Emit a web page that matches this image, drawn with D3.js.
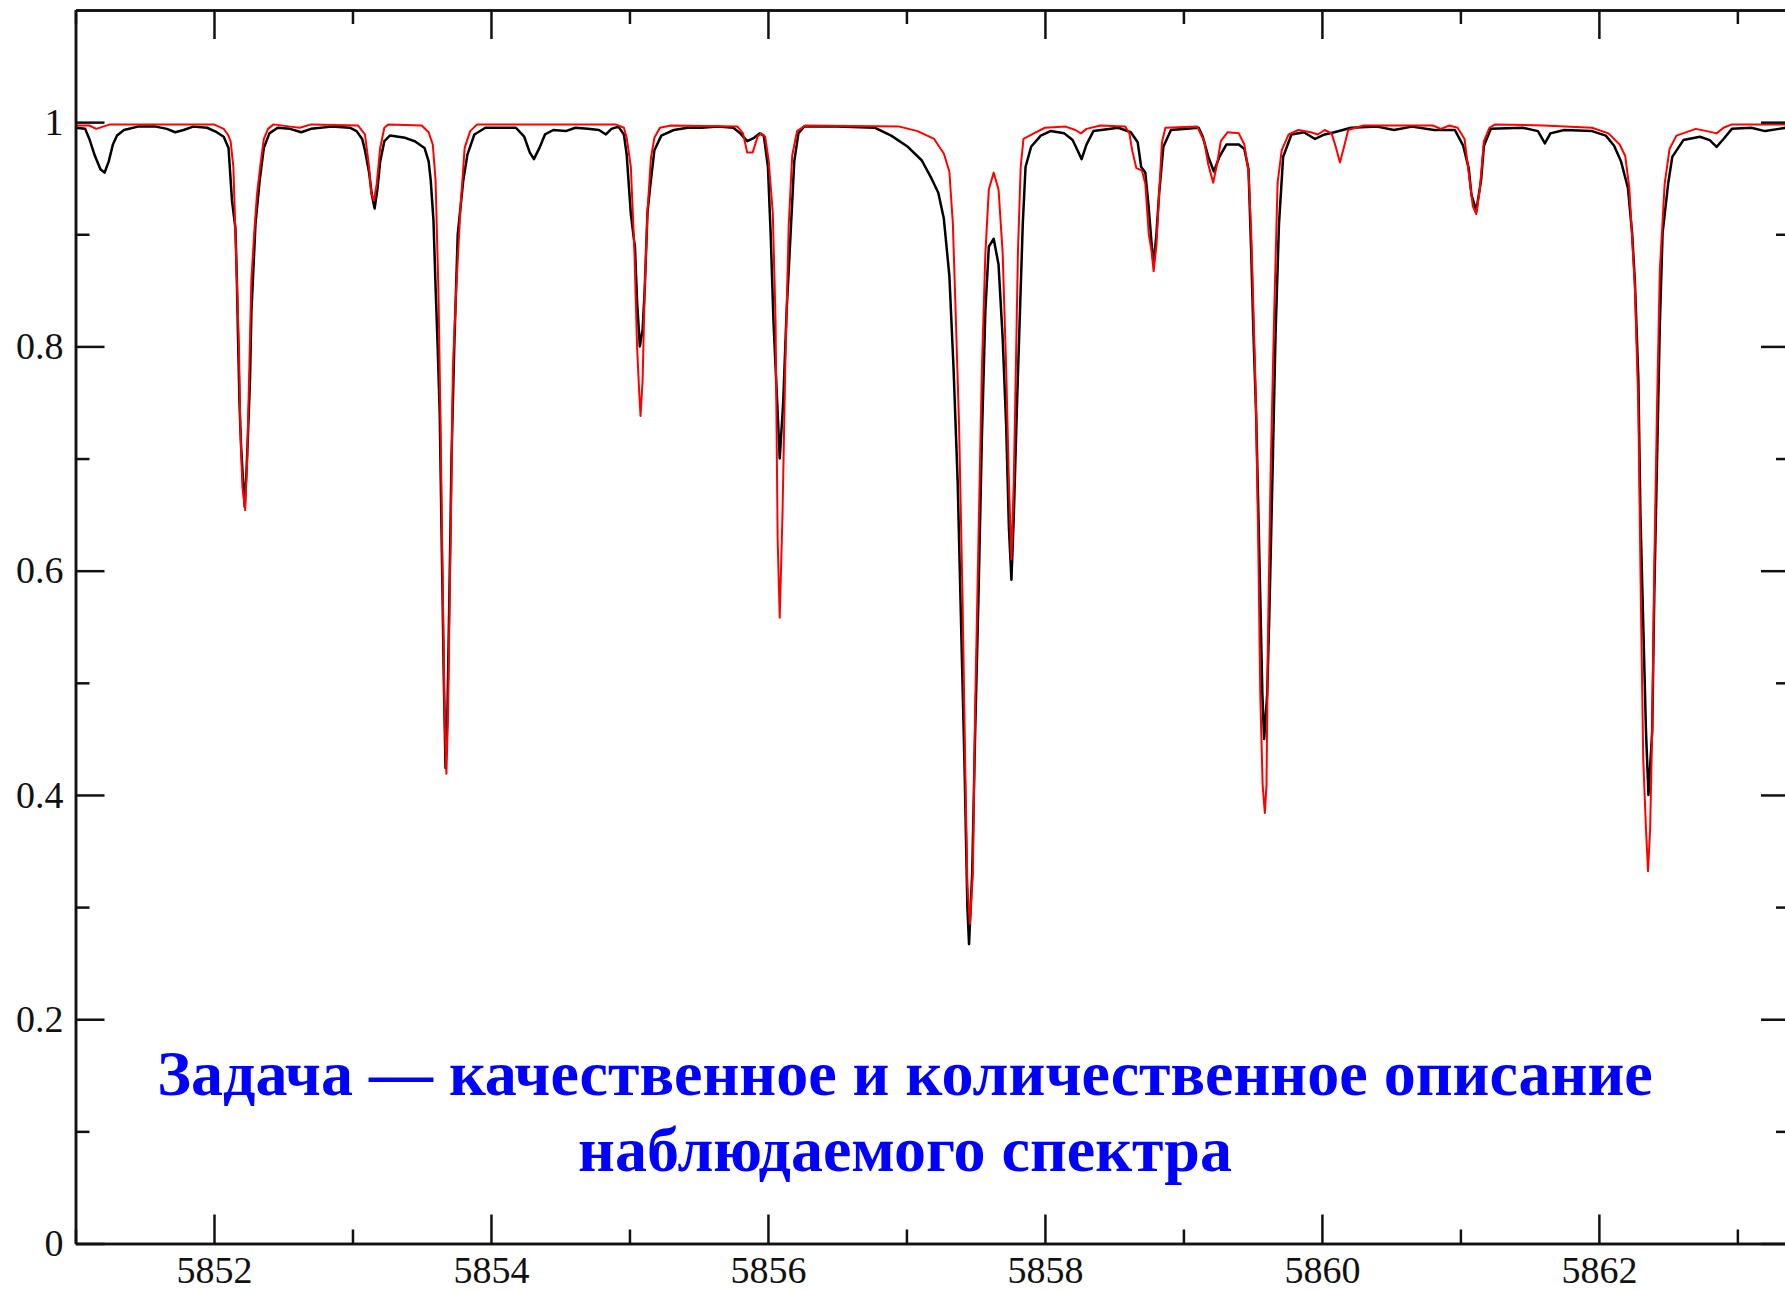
<!DOCTYPE html>
<html>
<head>
<meta charset="utf-8">
<script src="https://cdn.jsdelivr.net/npm/d3@7"></script>
<style>
  body { margin: 0; background: #fff; }
  svg { display: block; }
  .tick text { font-family: "Liberation Serif", "Times New Roman", serif; font-size: 38px; fill: #111; }
  .axis path, .axis line { stroke: #111; stroke-width: 2.5px; }
</style>
</head>
<body>
<svg></svg>
<script>
// Observed spectrum (black), [wavelength, flux]
const observed = [
  [5851.00, 0.995], [5851.07, 0.994], [5851.10, 0.985], [5851.14, 0.970], [5851.18, 0.958],
  [5851.21, 0.955], [5851.24, 0.965], [5851.27, 0.980], [5851.30, 0.988], [5851.35, 0.993],
  [5851.45, 0.996], [5851.58, 0.996], [5851.66, 0.994], [5851.72, 0.991], [5851.78, 0.993],
  [5851.85, 0.996], [5851.95, 0.995], [5852.02, 0.991], [5852.07, 0.987], [5852.105, 0.977],
  [5852.13, 0.930], [5852.155, 0.905], [5852.165, 0.860], [5852.175, 0.800], [5852.185, 0.746],
  [5852.196, 0.710], [5852.21, 0.680], [5852.222, 0.657], [5852.235, 0.690], [5852.245, 0.720],
  [5852.26, 0.770], [5852.27, 0.830], [5852.30, 0.910], [5852.33, 0.948], [5852.36, 0.977],
  [5852.40, 0.990], [5852.46, 0.995], [5852.55, 0.994], [5852.63, 0.991], [5852.70, 0.994],
  [5852.85, 0.996], [5852.98, 0.995], [5853.03, 0.992], [5853.07, 0.985], [5853.09, 0.975],
  [5853.12, 0.955], [5853.14, 0.935], [5853.16, 0.923], [5853.18, 0.940], [5853.20, 0.965],
  [5853.23, 0.983], [5853.27, 0.988], [5853.38, 0.986], [5853.45, 0.983], [5853.52, 0.977],
  [5853.55, 0.965], [5853.565, 0.948], [5853.585, 0.912], [5853.60, 0.853], [5853.615, 0.800],
  [5853.63, 0.740], [5853.645, 0.620], [5853.66, 0.500], [5853.672, 0.424], [5853.685, 0.470],
  [5853.70, 0.580], [5853.715, 0.700], [5853.735, 0.800], [5853.76, 0.900], [5853.80, 0.948],
  [5853.83, 0.971], [5853.88, 0.989], [5853.96, 0.995], [5854.18, 0.995], [5854.24, 0.987],
  [5854.28, 0.973], [5854.31, 0.967], [5854.35, 0.977], [5854.39, 0.989], [5854.45, 0.993],
  [5854.54, 0.992], [5854.61, 0.995], [5854.70, 0.994], [5854.78, 0.993], [5854.83, 0.989],
  [5854.87, 0.994], [5854.92, 0.996], [5854.96, 0.989], [5854.98, 0.971], [5855.01, 0.918],
  [5855.04, 0.888], [5855.055, 0.840], [5855.075, 0.800], [5855.095, 0.815], [5855.11, 0.850],
  [5855.13, 0.919], [5855.15, 0.943], [5855.18, 0.975], [5855.23, 0.988], [5855.32, 0.993],
  [5855.42, 0.995], [5855.52, 0.995], [5855.64, 0.996], [5855.75, 0.995], [5855.80, 0.990],
  [5855.85, 0.983], [5855.90, 0.986], [5855.94, 0.990], [5855.97, 0.988], [5856.00, 0.960],
  [5856.02, 0.899], [5856.04, 0.822], [5856.065, 0.755], [5856.085, 0.700], [5856.11, 0.750],
  [5856.135, 0.832], [5856.165, 0.904], [5856.19, 0.965], [5856.22, 0.990], [5856.26, 0.996],
  [5856.50, 0.996], [5856.77, 0.995], [5856.89, 0.988], [5857.01, 0.978], [5857.11, 0.966],
  [5857.18, 0.950], [5857.23, 0.937], [5857.27, 0.914], [5857.31, 0.863], [5857.34, 0.781],
  [5857.37, 0.679], [5857.39, 0.576], [5857.42, 0.423], [5857.44, 0.300], [5857.452, 0.267],
  [5857.475, 0.331], [5857.495, 0.449], [5857.52, 0.576], [5857.545, 0.720], [5857.57, 0.832],
  [5857.595, 0.889], [5857.63, 0.896], [5857.665, 0.873], [5857.695, 0.807], [5857.72, 0.730],
  [5857.74, 0.638], [5857.758, 0.592], [5857.775, 0.648], [5857.80, 0.755], [5857.82, 0.832],
  [5857.84, 0.909], [5857.86, 0.960], [5857.90, 0.978], [5857.97, 0.988], [5858.04, 0.992],
  [5858.14, 0.990], [5858.20, 0.984], [5858.235, 0.975], [5858.265, 0.967], [5858.30, 0.980],
  [5858.35, 0.992], [5858.53, 0.995], [5858.62, 0.991], [5858.67, 0.982], [5858.695, 0.960],
  [5858.725, 0.955], [5858.75, 0.923], [5858.77, 0.892], [5858.785, 0.873], [5858.805, 0.900],
  [5858.825, 0.937], [5858.855, 0.978], [5858.91, 0.993], [5859.11, 0.995], [5859.14, 0.987],
  [5859.18, 0.969], [5859.22, 0.956], [5859.26, 0.969], [5859.31, 0.980], [5859.40, 0.980],
  [5859.44, 0.976], [5859.47, 0.958], [5859.49, 0.882], [5859.505, 0.814], [5859.525, 0.740],
  [5859.55, 0.604], [5859.57, 0.490], [5859.583, 0.450], [5859.605, 0.490], [5859.62, 0.559],
  [5859.645, 0.695], [5859.665, 0.810], [5859.69, 0.909], [5859.72, 0.969], [5859.78, 0.989],
  [5859.87, 0.991], [5859.95, 0.985], [5860.02, 0.989], [5860.09, 0.991], [5860.21, 0.995],
  [5860.40, 0.996], [5860.52, 0.993], [5860.65, 0.996], [5860.81, 0.993], [5860.96, 0.993],
  [5861.02, 0.979], [5861.06, 0.959], [5861.08, 0.935], [5861.115, 0.921], [5861.15, 0.949],
  [5861.17, 0.979], [5861.22, 0.994], [5861.45, 0.995], [5861.56, 0.992], [5861.61, 0.981],
  [5861.65, 0.990], [5861.75, 0.993], [5861.95, 0.992], [5862.05, 0.988], [5862.11, 0.979],
  [5862.16, 0.965], [5862.21, 0.941], [5862.24, 0.901], [5862.26, 0.858], [5862.285, 0.771],
  [5862.30, 0.650], [5862.32, 0.554], [5862.34, 0.457], [5862.358, 0.400], [5862.385, 0.457],
  [5862.40, 0.578], [5862.42, 0.699], [5862.44, 0.819], [5862.46, 0.901], [5862.50, 0.945],
  [5862.53, 0.969], [5862.61, 0.984], [5862.73, 0.987], [5862.80, 0.984], [5862.85, 0.978],
  [5862.90, 0.985], [5862.96, 0.994], [5863.10, 0.995], [5863.20, 0.992], [5863.30, 0.994],
  [5863.40, 0.996]
];

// Synthetic spectrum (red), [wavelength, flux]
const synthetic = [
  [5851.00, 0.997], [5851.10, 0.997], [5851.15, 0.994], [5851.25, 0.998], [5851.60, 0.998],
  [5852.00, 0.998], [5852.07, 0.994], [5852.10, 0.989], [5852.12, 0.983], [5852.14, 0.960],
  [5852.16, 0.880], [5852.18, 0.800], [5852.19, 0.730], [5852.205, 0.675], [5852.225, 0.654],
  [5852.24, 0.700], [5852.255, 0.780], [5852.27, 0.860], [5852.29, 0.900], [5852.31, 0.935],
  [5852.335, 0.962], [5852.36, 0.985], [5852.39, 0.994], [5852.43, 0.998], [5852.55, 0.996],
  [5852.62, 0.995], [5852.70, 0.998], [5853.04, 0.997], [5853.09, 0.989], [5853.12, 0.960],
  [5853.135, 0.937], [5853.155, 0.930], [5853.175, 0.945], [5853.20, 0.977], [5853.23, 0.995],
  [5853.26, 0.998], [5853.50, 0.997], [5853.55, 0.991], [5853.58, 0.980], [5853.60, 0.948],
  [5853.62, 0.853], [5853.635, 0.740], [5853.65, 0.600], [5853.665, 0.470], [5853.678, 0.419],
  [5853.69, 0.470], [5853.70, 0.560], [5853.71, 0.640], [5853.725, 0.780], [5853.75, 0.853],
  [5853.78, 0.924], [5853.81, 0.977], [5853.85, 0.992], [5853.90, 0.998], [5854.90, 0.998],
  [5854.96, 0.995], [5854.98, 0.986], [5855.01, 0.960], [5855.035, 0.888], [5855.055, 0.800],
  [5855.07, 0.760], [5855.08, 0.738], [5855.095, 0.770], [5855.11, 0.850], [5855.13, 0.920],
  [5855.155, 0.968], [5855.18, 0.986], [5855.22, 0.995], [5855.30, 0.997], [5855.78, 0.996],
  [5855.82, 0.990], [5855.85, 0.973], [5855.89, 0.973], [5855.925, 0.987], [5855.95, 0.990],
  [5855.98, 0.987], [5856.005, 0.966], [5856.035, 0.919], [5856.055, 0.822], [5856.07, 0.628],
  [5856.085, 0.558], [5856.105, 0.650], [5856.125, 0.781], [5856.15, 0.908], [5856.175, 0.970],
  [5856.21, 0.992], [5856.27, 0.997], [5856.95, 0.996], [5857.08, 0.992], [5857.20, 0.985],
  [5857.27, 0.972], [5857.31, 0.956], [5857.335, 0.910], [5857.355, 0.832], [5857.38, 0.730],
  [5857.405, 0.576], [5857.425, 0.423], [5857.44, 0.320], [5857.458, 0.285], [5857.48, 0.331],
  [5857.495, 0.470], [5857.52, 0.627], [5857.545, 0.781], [5857.57, 0.883], [5857.595, 0.940],
  [5857.63, 0.955], [5857.665, 0.940], [5857.695, 0.883], [5857.72, 0.781], [5857.74, 0.679],
  [5857.758, 0.610], [5857.775, 0.680], [5857.79, 0.780], [5857.805, 0.883], [5857.825, 0.960],
  [5857.845, 0.985], [5857.92, 0.990], [5858.00, 0.995], [5858.15, 0.996], [5858.22, 0.993],
  [5858.26, 0.990], [5858.30, 0.994], [5858.40, 0.997], [5858.58, 0.996], [5858.61, 0.990],
  [5858.63, 0.975], [5858.66, 0.959], [5858.70, 0.957], [5858.725, 0.945], [5858.75, 0.900],
  [5858.77, 0.885], [5858.785, 0.867], [5858.805, 0.890], [5858.825, 0.937], [5858.845, 0.982],
  [5858.87, 0.995], [5859.10, 0.996], [5859.15, 0.983], [5859.18, 0.962], [5859.215, 0.946],
  [5859.245, 0.964], [5859.27, 0.983], [5859.32, 0.991], [5859.40, 0.990], [5859.44, 0.980],
  [5859.47, 0.956], [5859.49, 0.900], [5859.51, 0.814], [5859.525, 0.740], [5859.54, 0.628],
  [5859.555, 0.490], [5859.572, 0.409], [5859.588, 0.384], [5859.60, 0.409], [5859.61, 0.537],
  [5859.63, 0.690], [5859.655, 0.827], [5859.68, 0.946], [5859.71, 0.975], [5859.76, 0.989],
  [5859.83, 0.993], [5859.92, 0.991], [5859.97, 0.989], [5860.02, 0.993], [5860.07, 0.990],
  [5860.10, 0.978], [5860.13, 0.964], [5860.16, 0.978], [5860.19, 0.993], [5860.30, 0.997],
  [5860.80, 0.997], [5860.86, 0.994], [5860.92, 0.997], [5860.98, 0.995], [5861.03, 0.985],
  [5861.06, 0.955], [5861.09, 0.925], [5861.115, 0.918], [5861.14, 0.940], [5861.17, 0.983],
  [5861.21, 0.995], [5861.25, 0.998], [5861.60, 0.997], [5861.95, 0.995], [5862.07, 0.990],
  [5862.15, 0.980], [5862.19, 0.970], [5862.22, 0.941], [5862.26, 0.853], [5862.285, 0.747],
  [5862.30, 0.602], [5862.32, 0.433], [5862.34, 0.370], [5862.355, 0.332], [5862.37, 0.370],
  [5862.385, 0.457], [5862.40, 0.602], [5862.42, 0.747], [5862.44, 0.868], [5862.475, 0.945],
  [5862.51, 0.976], [5862.56, 0.988], [5862.70, 0.994], [5862.78, 0.992], [5862.85, 0.990],
  [5862.90, 0.995], [5862.96, 0.998], [5863.40, 0.998]
];

// Ticks and caption
const xMajor = [5852, 5854, 5856, 5858, 5860, 5862];
const xMinor = [5851, 5853, 5855, 5857, 5859, 5861, 5863];
const yMajor = [0, 0.2, 0.4, 0.6, 0.8, 1];
const yMinor = [0.1, 0.3, 0.5, 0.7, 0.9];
const caption = [
  "Задача — качественное и количественное описание",
  "наблюдаемого спектра"
];

// Canvas
const W = 1785, H = 1290;
const margin = { top: 10, left: 75.5, right: 1790, bottom: 1243.5 };

const svg = d3.select("svg")
  .attr("width", W)
  .attr("height", H);

const x = d3.scaleLinear()
  .domain([5851, 5863.38])
  .range([margin.left, margin.right]);

const y = d3.scaleLinear()
  .domain([0, 1.1])
  .range([margin.bottom, margin.top]);

svg.append("clipPath")
  .attr("id", "plot")
  .append("rect")
  .attr("x", margin.left)
  .attr("y", margin.top)
  .attr("width", margin.right - margin.left)
  .attr("height", margin.bottom - margin.top);

// Spectra
const line = d3.line()
  .x(d => x(d[0]))
  .y(d => y(d[1]));

svg.append("path")
  .datum(observed)
  .attr("clip-path", "url(#plot)")
  .attr("fill", "none")
  .attr("stroke", "#000")
  .attr("stroke-width", 2.5)
  .attr("stroke-linejoin", "round")
  .attr("d", line);

svg.append("path")
  .datum(synthetic)
  .attr("clip-path", "url(#plot)")
  .attr("fill", "none")
  .attr("stroke", "#ff0000")
  .attr("stroke-width", 2)
  .attr("stroke-linejoin", "round")
  .attr("d", line);

// Axes: major ticks with labels, minor ticks without; ticks point inward
const major = 29, minor = 14;

function drawAxis(axisFn, scale, pos, values, size, labels) {
  const ax = axisFn(scale)
    .tickValues(values)
    .tickSizeInner(-size)
    .tickSizeOuter(0)
    .tickPadding(labels ? 12 : 0)
    .tickFormat(labels ? (d => String(d)) : "");
  svg.append("g")
    .attr("class", "axis")
    .attr("transform", pos)
    .call(ax);
}

drawAxis(d3.axisBottom, x, `translate(0,${margin.bottom})`, xMajor, major, true);
drawAxis(d3.axisBottom, x, `translate(0,${margin.bottom})`, xMinor, minor, false);
drawAxis(d3.axisTop, x, `translate(0,${margin.top})`, xMajor, major, false);
drawAxis(d3.axisTop, x, `translate(0,${margin.top})`, xMinor, minor, false);
drawAxis(d3.axisLeft, y, `translate(${margin.left},0)`, yMajor, major, true);
drawAxis(d3.axisLeft, y, `translate(${margin.left},0)`, yMinor, minor, false);
drawAxis(d3.axisRight, y, `translate(${margin.right},0)`, yMajor, major, false);
drawAxis(d3.axisRight, y, `translate(${margin.right},0)`, yMinor, minor, false);

svg.selectAll(".axis .tick text")
  .filter(function () { return this.parentNode.parentNode.getAttribute("transform").startsWith("translate(0"); })
  .attr("y", 13);

// Caption in blue
svg.append("g")
  .selectAll("text")
  .data(caption)
  .join("text")
  .attr("x", 905)
  .attr("y", (d, i) => 1095 + i * 76)
  .attr("text-anchor", "middle")
  .attr("font-family", "'Liberation Serif', 'Times New Roman', serif")
  .attr("font-weight", "bold")
  .attr("font-size", 64)
  .attr("fill", "#0000ff")
  .text(d => d);
</script>
</body>
</html>
